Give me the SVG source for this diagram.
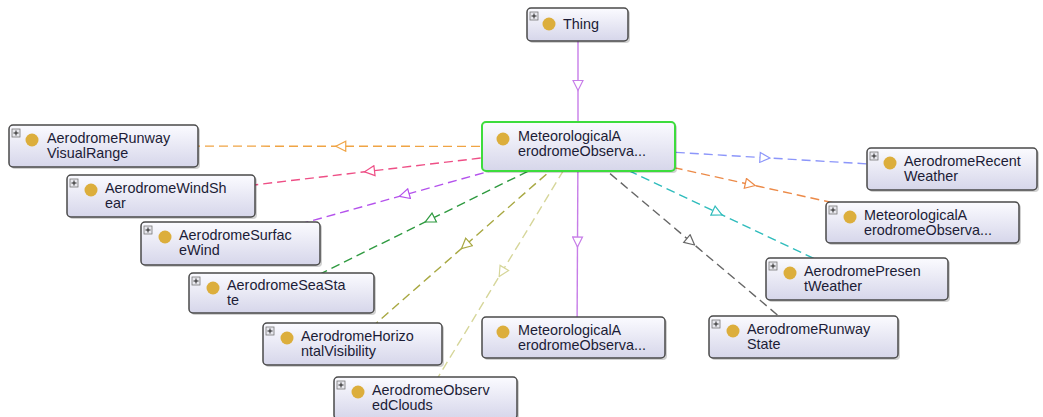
<svg xmlns="http://www.w3.org/2000/svg" width="1043" height="417" viewBox="0 0 1043 417">
<style>
.bg{fill:#ffffff}
.edge{fill:none;stroke-width:1.4;stroke-dasharray:9 5}
.solid{stroke-dasharray:none}
.shadow{fill:#000;opacity:0.18}
.box{fill:url(#grad);stroke:#4a4a4a;stroke-width:1.5}
.sel{stroke:#3ddc3d;stroke-width:2}
.plus{fill:#e8e8ee;stroke:#777;stroke-width:0.8}
.pm{stroke:#222;stroke-width:1}
.dot{fill:#dcae3c}
.lbl{font-family:"Liberation Sans",Arial,Helvetica,sans-serif;font-size:14.4px;fill:#1c1c36}
</style>
<defs>
<linearGradient id="grad" x1="0" y1="0" x2="0" y2="1">
<stop offset="0" stop-color="#fbfbff"/>
<stop offset="1" stop-color="#d6d6ea"/>
</linearGradient>
<marker id="m-violet" viewBox="0 0 12 12" refX="6" refY="6" markerWidth="12" markerHeight="12" markerUnits="userSpaceOnUse" orient="auto"><path d="M1,1 L11,6 L1,11 Z" fill="#fff" stroke="#c77de8" stroke-width="1.2"/></marker>
<marker id="m-orange" viewBox="0 0 12 12" refX="6" refY="6" markerWidth="12" markerHeight="12" markerUnits="userSpaceOnUse" orient="auto"><path d="M1,1 L11,6 L1,11 Z" fill="#fff" stroke="#f0a444" stroke-width="1.2"/></marker>
<marker id="m-pink" viewBox="0 0 12 12" refX="6" refY="6" markerWidth="12" markerHeight="12" markerUnits="userSpaceOnUse" orient="auto"><path d="M1,1 L11,6 L1,11 Z" fill="#fff" stroke="#ee4f86" stroke-width="1.2"/></marker>
<marker id="m-purple" viewBox="0 0 12 12" refX="6" refY="6" markerWidth="12" markerHeight="12" markerUnits="userSpaceOnUse" orient="auto"><path d="M1,1 L11,6 L1,11 Z" fill="#fff" stroke="#b452ec" stroke-width="1.2"/></marker>
<marker id="m-green" viewBox="0 0 12 12" refX="6" refY="6" markerWidth="12" markerHeight="12" markerUnits="userSpaceOnUse" orient="auto"><path d="M1,1 L11,6 L1,11 Z" fill="#fff" stroke="#2f9a40" stroke-width="1.2"/></marker>
<marker id="m-olive" viewBox="0 0 12 12" refX="6" refY="6" markerWidth="12" markerHeight="12" markerUnits="userSpaceOnUse" orient="auto"><path d="M1,1 L11,6 L1,11 Z" fill="#fff" stroke="#a8a842" stroke-width="1.2"/></marker>
<marker id="m-beige" viewBox="0 0 12 12" refX="6" refY="6" markerWidth="12" markerHeight="12" markerUnits="userSpaceOnUse" orient="auto"><path d="M1,1 L11,6 L1,11 Z" fill="#fff" stroke="#d6d69a" stroke-width="1.2"/></marker>
<marker id="m-gray" viewBox="0 0 12 12" refX="6" refY="6" markerWidth="12" markerHeight="12" markerUnits="userSpaceOnUse" orient="auto"><path d="M1,1 L11,6 L1,11 Z" fill="#fff" stroke="#666666" stroke-width="1.2"/></marker>
<marker id="m-teal" viewBox="0 0 12 12" refX="6" refY="6" markerWidth="12" markerHeight="12" markerUnits="userSpaceOnUse" orient="auto"><path d="M1,1 L11,6 L1,11 Z" fill="#fff" stroke="#2fbcbc" stroke-width="1.2"/></marker>
<marker id="m-orange2" viewBox="0 0 12 12" refX="6" refY="6" markerWidth="12" markerHeight="12" markerUnits="userSpaceOnUse" orient="auto"><path d="M1,1 L11,6 L1,11 Z" fill="#fff" stroke="#ec8a48" stroke-width="1.2"/></marker>
<marker id="m-blue" viewBox="0 0 12 12" refX="6" refY="6" markerWidth="12" markerHeight="12" markerUnits="userSpaceOnUse" orient="auto"><path d="M1,1 L11,6 L1,11 Z" fill="#fff" stroke="#8c96fa" stroke-width="1.2"/></marker>
</defs>
<rect class="bg" x="0" y="0" width="1043" height="417"/>

<g id="connectors">
<path class="edge solid" stroke="#c77de8" marker-mid="url(#m-violet)" d="M578,24.5 L578,85.5 L578,146.5"/>
<path class="edge" stroke="#f0a444" marker-mid="url(#m-orange)" d="M578,146.5 L340.75,146.25 L103.5,146"/>
<path class="edge" stroke="#ee4f86" marker-mid="url(#m-pink)" d="M578,146.5 L369.5,171.25 L161,196"/>
<path class="edge" stroke="#b452ec" marker-mid="url(#m-purple)" d="M578,146.5 L404.25,195 L230.5,243.5"/>
<path class="edge" stroke="#2f9a40" marker-mid="url(#m-green)" d="M578,146.5 L429.75,219.75 L281.5,293"/>
<path class="edge" stroke="#a8a842" marker-mid="url(#m-olive)" d="M578,146.5 L465.25,245.25 L352.5,344"/>
<path class="edge" stroke="#d6d69a" marker-mid="url(#m-beige)" d="M578,146.5 L501.75,272.25 L425.5,398"/>
<path class="edge solid" stroke="#c77de8" marker-mid="url(#m-violet)" d="M578,146.5 L577.5,242 L577,337.5"/>
<path class="edge" stroke="#666666" marker-mid="url(#m-gray)" d="M578,146.5 L690.75,241.75 L803.5,337"/>
<path class="edge" stroke="#2fbcbc" marker-mid="url(#m-teal)" d="M578,146.5 L717.5,212.75 L857,279"/>
<path class="edge" stroke="#ec8a48" marker-mid="url(#m-orange2)" d="M578,146.5 L750.25,184.5 L922.5,222.5"/>
<path class="edge" stroke="#8c96fa" marker-mid="url(#m-blue)" d="M578,146.5 L765,157.75 L952,169"/>
</g>

<g id="n-thing">
<rect class="shadow" x="529" y="10" width="101" height="33" rx="4"/>
<rect class="box" x="527" y="8" width="101" height="33" rx="4"/>
<rect class="plus" x="530" y="12" width="8" height="8"/>
<path class="pm" d="M531.5,16 h5 M534,13.5 v5"/>
<circle class="dot" cx="549" cy="24" r="6.5"/>
<text class="lbl" x="563" y="29">Thing</text>
</g>

<g id="n-center">
<rect class="shadow" x="484" y="124" width="193" height="49" rx="4"/>
<rect class="box sel" x="482" y="122" width="193" height="49" rx="4"/>
<circle class="dot" cx="503" cy="139" r="6.5"/>
<text class="lbl"><tspan x="518" y="141">MeteorologicalA</tspan><tspan x="518" y="156">erodromeObserva...</tspan></text>
</g>

<g id="n-rvr">
<rect class="shadow" x="11" y="127" width="189" height="42" rx="4"/>
<rect class="box" x="9" y="125" width="189" height="42" rx="4"/>
<rect class="plus" x="12" y="129" width="8" height="8"/>
<path class="pm" d="M13.5,133 h5 M16,130.5 v5"/>
<circle class="dot" cx="32" cy="140" r="6.5"/>
<text class="lbl"><tspan x="47" y="142.5">AerodromeRunway</tspan><tspan x="47" y="157.5">VisualRange</tspan></text>
</g>

<g id="n-windshear">
<rect class="shadow" x="69" y="177" width="188" height="42" rx="4"/>
<rect class="box" x="67" y="175" width="188" height="42" rx="4"/>
<rect class="plus" x="70" y="179" width="8" height="8"/>
<path class="pm" d="M71.5,183 h5 M74,180.5 v5"/>
<circle class="dot" cx="91" cy="190" r="6.5"/>
<text class="lbl"><tspan x="105" y="192.5">AerodromeWindSh</tspan><tspan x="105" y="207.5">ear</tspan></text>
</g>

<g id="n-surfacewind">
<rect class="shadow" x="143" y="224" width="179" height="43" rx="4"/>
<rect class="box" x="141" y="222" width="179" height="43" rx="4"/>
<rect class="plus" x="144" y="226" width="8" height="8"/>
<path class="pm" d="M145.5,230 h5 M148,227.5 v5"/>
<circle class="dot" cx="165" cy="237" r="6.5"/>
<text class="lbl"><tspan x="179" y="239.5">AerodromeSurfac</tspan><tspan x="179" y="254.5">eWind</tspan></text>
</g>

<g id="n-seastate">
<rect class="shadow" x="191" y="275" width="185" height="40" rx="4"/>
<rect class="box" x="189" y="273" width="185" height="40" rx="4"/>
<rect class="plus" x="192" y="277" width="8" height="8"/>
<path class="pm" d="M193.5,281 h5 M196,278.5 v5"/>
<circle class="dot" cx="213" cy="288" r="6.5"/>
<text class="lbl"><tspan x="227" y="290">AerodromeSeaSta</tspan><tspan x="227" y="305">te</tspan></text>
</g>

<g id="n-horizvis">
<rect class="shadow" x="265" y="325" width="179" height="42" rx="4"/>
<rect class="box" x="263" y="323" width="179" height="42" rx="4"/>
<rect class="plus" x="266" y="327" width="8" height="8"/>
<path class="pm" d="M267.5,331 h5 M270,328.5 v5"/>
<circle class="dot" cx="287" cy="338" r="6.5"/>
<text class="lbl"><tspan x="301" y="340.5">AerodromeHorizo</tspan><tspan x="301" y="355.5">ntalVisibility</tspan></text>
</g>

<g id="n-clouds">
<rect class="shadow" x="336" y="379" width="183" height="42" rx="4"/>
<rect class="box" x="334" y="377" width="183" height="42" rx="4"/>
<rect class="plus" x="337" y="381" width="8" height="8"/>
<path class="pm" d="M338.5,385 h5 M341,382.5 v5"/>
<circle class="dot" cx="358" cy="392" r="6.5"/>
<text class="lbl"><tspan x="372" y="394.5">AerodromeObserv</tspan><tspan x="372" y="409.5">edClouds</tspan></text>
</g>

<g id="n-bottom">
<rect class="shadow" x="484" y="319" width="183" height="41" rx="4"/>
<rect class="box" x="482" y="317" width="183" height="41" rx="4"/>
<circle class="dot" cx="503" cy="332" r="6.5"/>
<text class="lbl"><tspan x="518" y="335">MeteorologicalA</tspan><tspan x="518" y="350">erodromeObserva...</tspan></text>
</g>

<g id="n-runwaystate">
<rect class="shadow" x="711" y="318" width="189" height="42" rx="4"/>
<rect class="box" x="709" y="316" width="189" height="42" rx="4"/>
<rect class="plus" x="712" y="320" width="8" height="8"/>
<path class="pm" d="M713.5,324 h5 M716,321.5 v5"/>
<circle class="dot" cx="733" cy="331" r="6.5"/>
<text class="lbl"><tspan x="747" y="333.5">AerodromeRunway</tspan><tspan x="747" y="348.5">State</tspan></text>
</g>

<g id="n-presentweather">
<rect class="shadow" x="768" y="260" width="182" height="42" rx="4"/>
<rect class="box" x="766" y="258" width="182" height="42" rx="4"/>
<rect class="plus" x="769" y="262" width="8" height="8"/>
<path class="pm" d="M770.5,266 h5 M773,263.5 v5"/>
<circle class="dot" cx="790" cy="273" r="6.5"/>
<text class="lbl"><tspan x="804" y="275.5">AerodromePresen</tspan><tspan x="804" y="290.5">tWeather</tspan></text>
</g>

<g id="n-metright">
<rect class="shadow" x="828" y="204" width="193" height="41" rx="4"/>
<rect class="box" x="826" y="202" width="193" height="41" rx="4"/>
<rect class="plus" x="829" y="206" width="8" height="8"/>
<path class="pm" d="M830.5,210 h5 M833,207.5 v5"/>
<circle class="dot" cx="850" cy="217" r="6.5"/>
<text class="lbl"><tspan x="864" y="219.5">MeteorologicalA</tspan><tspan x="864" y="234.5">erodromeObserva...</tspan></text>
</g>

<g id="n-recentweather">
<rect class="shadow" x="869" y="150" width="170" height="42" rx="4"/>
<rect class="box" x="867" y="148" width="170" height="42" rx="4"/>
<rect class="plus" x="870" y="152" width="8" height="8"/>
<path class="pm" d="M871.5,156 h5 M874,153.5 v5"/>
<circle class="dot" cx="890" cy="163" r="6.5"/>
<text class="lbl"><tspan x="904" y="165.5">AerodromeRecent</tspan><tspan x="904" y="180.5">Weather</tspan></text>
</g>
</svg>
